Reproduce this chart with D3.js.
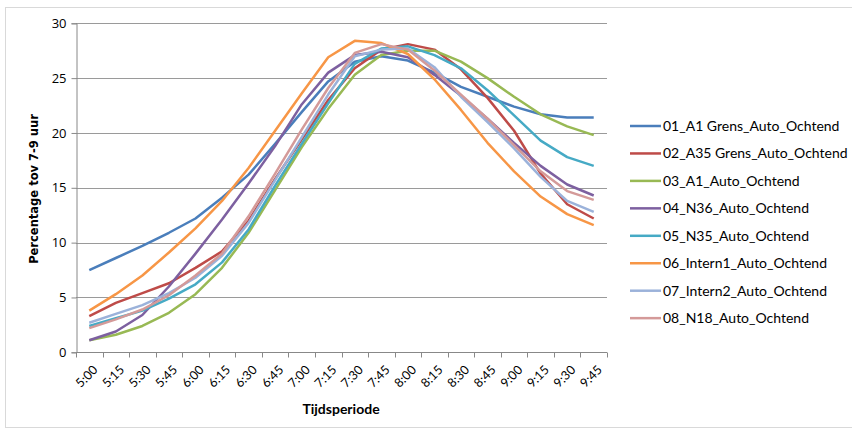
<!DOCTYPE html>
<html>
<head>
<meta charset="utf-8">
<script src="https://cdn.jsdelivr.net/npm/d3@7"></script>
<style>
  html, body { margin: 0; padding: 0; background: #fff; }
  svg { display: block; }
  text { font-family: Lato, "Open Sans", sans-serif; fill: #000; }
</style>
</head>
<body>
<svg id="chart" width="852" height="430"></svg>
<script>
// Time slots on the x axis
const periods = ["5:00","5:15","5:30","5:45","6:00","6:15","6:30","6:45","7:00","7:15",
                 "7:30","7:45","8:00","8:15","8:30","8:45","9:00","9:15","9:30","9:45"];

// Y axis ticks
const yTicks = [0, 5, 10, 15, 20, 25, 30];

// Series names, in legend order
const seriesNames = [
  "01_A1 Grens_Auto_Ochtend",
  "02_A35 Grens_Auto_Ochtend",
  "03_A1_Auto_Ochtend",
  "04_N36_Auto_Ochtend",
  "05_N35_Auto_Ochtend",
  "06_Intern1_Auto_Ochtend",
  "07_Intern2_Auto_Ochtend",
  "08_N18_Auto_Ochtend"
];

// Percentage of the 7-9 peak per time slot
const a1Grens    = [7.5, 8.6, 9.7, 10.9, 12.2, 14.1, 16.2, 19.0, 21.9, 24.7, 26.5, 27.0, 26.6, 25.5, 24.2, 23.3, 22.4, 21.7, 21.4, 21.4];
const a35Grens   = [3.3, 4.5, 5.4, 6.3, 7.7, 9.2, 12.0, 15.8, 19.4, 23.0, 25.9, 27.6, 28.1, 27.6, 25.8, 23.2, 20.2, 16.3, 13.5, 12.2];
const a1         = [1.1, 1.6, 2.4, 3.6, 5.3, 7.7, 10.9, 14.8, 18.7, 22.2, 25.3, 27.1, 27.5, 27.5, 26.5, 25.0, 23.3, 21.7, 20.6, 19.8];
const n36        = [1.1, 1.9, 3.4, 6.0, 9.0, 12.1, 15.4, 18.8, 22.6, 25.5, 27.1, 27.4, 26.9, 25.3, 23.4, 21.3, 19.1, 17.0, 15.3, 14.3];
const n35        = [2.4, 3.1, 3.8, 4.9, 6.2, 8.2, 11.2, 15.2, 19.0, 22.7, 26.3, 27.7, 27.9, 27.1, 25.9, 23.9, 21.6, 19.3, 17.8, 17.0];
const intern1    = [3.8, 5.3, 7.0, 9.1, 11.3, 13.8, 16.8, 20.2, 23.6, 26.9, 28.4, 28.2, 27.2, 24.9, 22.1, 19.1, 16.5, 14.2, 12.6, 11.6];
const intern2    = [2.7, 3.5, 4.3, 5.4, 6.8, 8.8, 11.8, 15.7, 19.6, 23.5, 27.0, 27.6, 27.7, 26.0, 23.3, 21.0, 18.6, 16.0, 13.8, 12.8];
const n18        = [2.2, 3.0, 3.9, 5.2, 7.0, 9.0, 12.4, 16.3, 20.3, 24.1, 27.3, 28.1, 27.6, 25.7, 23.5, 21.3, 18.9, 16.5, 14.7, 13.9];

const seriesValues = [a1Grens, a35Grens, a1, n36, n35, intern1, intern2, n18];
const seriesColors = ["#4A7EBB", "#BE4B48", "#98B954", "#7D60A0", "#46AAC5", "#F79646", "#9BB2DA", "#D49A99"];

const series = seriesNames.map((name, i) => ({
  name, color: seriesColors[i],
  values: seriesValues[i].map((v, j) => ({ period: periods[j], value: v }))
}));

const svg = d3.select("#chart");

// Outer chart border
svg.append("rect")
  .attr("x", 5.5).attr("y", 7.5).attr("width", 852).attr("height", 420)
  .attr("fill", "none").attr("stroke", "#d9d9d9").attr("stroke-width", 1);

const plot = { left: 76, right: 607, top: 23.3, bottom: 352.3 };

const x = d3.scaleBand().domain(periods).range([plot.left, plot.right]).padding(0);
const y = d3.scaleLinear().domain([0, 30]).range([plot.bottom, plot.top]);

// Horizontal gridlines
svg.append("g")
  .selectAll("line")
  .data(yTicks.filter(t => t > 0))
  .join("line")
  .attr("x1", plot.left).attr("x2", plot.right)
  .attr("y1", d => Math.round(y(d)) + 0.5).attr("y2", d => Math.round(y(d)) + 0.5)
  .attr("stroke", "#9a9a9a").attr("stroke-width", 1);

// Y axis
const yAxis = svg.append("g")
  .attr("transform", `translate(${plot.left + 0.5},0)`)
  .call(d3.axisLeft(y).tickValues(yTicks).tickSize(5).tickPadding(5).tickFormat(d3.format("d")));
yAxis.select(".domain").attr("stroke", "#888");
yAxis.selectAll(".tick line").attr("stroke", "#888");
yAxis.selectAll(".tick text").style("font-size", "13px").style("font-family", "'Open Sans', sans-serif").attr("fill", "#000");

// X axis with tick marks at category boundaries
const xAxisG = svg.append("g").attr("transform", `translate(0,${Math.round(plot.bottom) + 0.5})`);
xAxisG.append("line")
  .attr("x1", plot.left).attr("x2", plot.right)
  .attr("stroke", "#888");
xAxisG.selectAll("line.tk")
  .data(periods.concat(["__end"]))
  .join("line")
  .attr("class", "tk")
  .attr("x1", (d, i) => Math.round(plot.left + i * x.bandwidth()) + 0.5)
  .attr("x2", (d, i) => Math.round(plot.left + i * x.bandwidth()) + 0.5)
  .attr("y1", 0).attr("y2", 5)
  .attr("stroke", "#888");
xAxisG.selectAll("text")
  .data(periods)
  .join("text")
  .attr("transform", d => `translate(${x(d) + x.bandwidth() / 2 + 3},${12}) rotate(-45)`)
  .attr("text-anchor", "end")
  .attr("dy", "0.7em")
  .style("font-size", "12.5px")
  .text(d => d);

// Series lines
const line = d3.line()
  .x(d => x(d.period) + x.bandwidth() / 2)
  .y(d => y(d.value));

svg.append("g")
  .selectAll("path")
  .data(series)
  .join("path")
  .attr("d", d => line(d.values))
  .attr("fill", "none")
  .attr("stroke", d => d.color)
  .attr("stroke-width", 2.5)
  .attr("stroke-linejoin", "round");

// Axis titles
svg.append("text")
  .attr("transform", `translate(38,189) rotate(-90)`)
  .attr("text-anchor", "middle")
  .style("font-size", "11.5px").style("font-weight", "bold")
  .style("font-family", "'DejaVu Sans', sans-serif")
  .text("Percentage tov  7-9 uur");

svg.append("text")
  .attr("x", 341).attr("y", 414)
  .attr("text-anchor", "middle")
  .style("font-size", "14px").style("font-weight", "bold")
  .text("Tijdsperiode");

// Legend
const legend = svg.append("g")
  .selectAll("g")
  .data(series)
  .join("g")
  .attr("transform", (d, i) => `translate(630,${126 + i * 27.45})`);
legend.append("line")
  .attr("x1", 0).attr("x2", 31)
  .attr("stroke", d => d.color).attr("stroke-width", 2.5);
legend.append("text")
  .attr("x", 33).attr("dy", "0.35em")
  .style("font-size", "14px")
  .text(d => d.name);
</script>
</body>
</html>
